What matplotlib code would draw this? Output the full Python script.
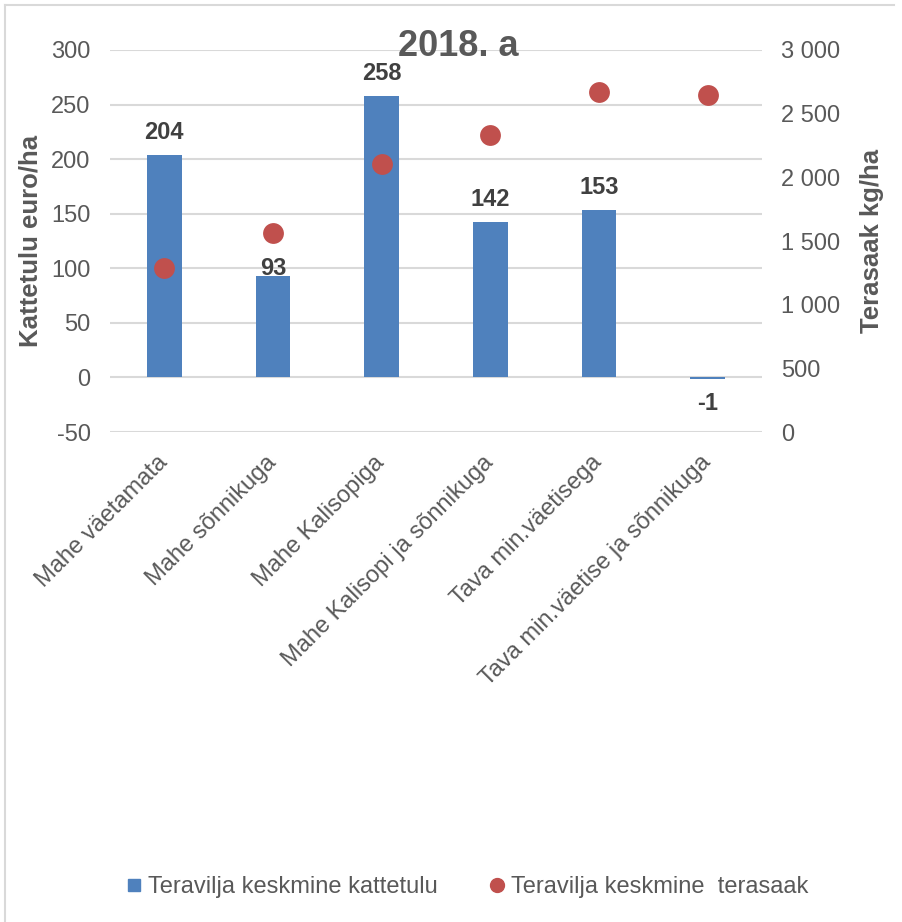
import matplotlib
matplotlib.use("Agg")
import matplotlib.pyplot as plt
import matplotlib.transforms as mtransforms
from matplotlib.lines import Line2D
import numpy as np

plt.rcParams['font.family'] = ['Liberation Sans', 'DejaVu Sans']
plt.rcParams['axes.unicode_minus'] = False

# andmed
kategooriad = ['Mahe väetamata', 'Mahe sõnnikuga', 'Mahe Kalisopiga',
               'Mahe Kalisopi ja sõnnikuga', 'Tava min.väetisega',
               'Tava min.väetise ja sõnnikuga']
kattetulu = [204, 93, 258, 142, 153, -1]          # euro/ha
terasaak = [1290, 1560, 2105, 2335, 2670, 2650]   # kg/ha

tekst = '#595959'
sinine = '#4F81BD'
punane = '#C0504D'
grid_c = '#D9D9D9'

fig = plt.figure(figsize=(9.02, 9.22), dpi=100)
ax = fig.add_axes([110 / 902, 1 - 432 / 922, (762 - 110) / 902, (432 - 50) / 922])
ax2 = ax.twinx()

x = np.arange(len(kategooriad))
ax.bar(x, kattetulu, width=0.32, color=sinine, zorder=2)
ax2.scatter(x, terasaak, s=225, color=punane, zorder=3, linewidths=0)

ax.set_xlim(-0.5, len(kategooriad) - 0.5)
ax.set_ylim(-50, 300)
ax.set_yticks(np.arange(-50, 301, 50))
ax2.set_ylim(0, 3000)
ax2.set_yticks(np.arange(0, 3001, 500))
ax2.set_yticklabels([f'{v:,}'.replace(',', ' ') for v in range(0, 3001, 500)])

ax.yaxis.grid(True, color=grid_c, linewidth=1.5, zorder=0)
ax.set_axisbelow(True)
for a in (ax, ax2):
    for s in a.spines.values():
        s.set_visible(False)
    a.tick_params(length=0, labelsize=17, labelcolor=tekst)
ax.tick_params(axis='y', pad=14)
ax2.tick_params(axis='y', pad=14)

ax.set_xticks(x)
ax.set_xticklabels(kategooriad, rotation=45, ha='right', va='top',
                   rotation_mode='anchor', fontsize=17, color=tekst)
ax.tick_params(axis='x', pad=14)
nihe = mtransforms.ScaledTranslation(-8 / 100, 0, fig.dpi_scale_trans)
for lbl in ax.get_xticklabels():
    lbl.set_transform(lbl.get_transform() + nihe)

# väärtused tulpade kohal/all
nihked = {93: -3}
for xi, v in zip(x, kattetulu):
    if v >= 0:
        ax.annotate(str(v), (xi, v), xytext=(0, nihked.get(v, 8)),
                    textcoords='offset points', ha='center', va='bottom',
                    fontsize=17, fontweight='bold', color='#404040')
    else:
        ax.annotate(str(v), (xi, v), xytext=(0, -10), textcoords='offset points',
                    ha='center', va='top', fontsize=17, fontweight='bold',
                    color='#404040')

ax.set_ylabel('Kattetulu euro/ha', fontsize=18.5, fontweight='bold', color=tekst,
              labelpad=6)
ax2.set_ylabel('Terasaak kg/ha', fontsize=18.5, fontweight='bold', color=tekst,
               labelpad=14)

fig.text(458 / 902, 1 - 47 / 922, '2018. a', ha='center', va='center',
         fontsize=26, fontweight='bold', color=tekst)

handles = [
    Line2D([], [], marker='s', linestyle='none', markersize=8,
           markerfacecolor=sinine, markeredgecolor=sinine),
    Line2D([], [], marker='o', linestyle='none', markersize=10,
           markerfacecolor=punane, markeredgecolor=punane),
]
fig.legend(handles, ['Teravilja keskmine kattetulu', 'Teravilja keskmine  terasaak'],
           loc='center', bbox_to_anchor=(465 / 902, 1 - 887 / 922), ncol=2,
           frameon=False, fontsize=17, labelcolor=tekst, handletextpad=0.1,
           columnspacing=2.0, handlelength=1)

# raam
fig.add_artist(Line2D([5 / 902, 894 / 902], [1 - 5 / 922, 1 - 5 / 922],
                      color='#D9D9D9', linewidth=1.5))
fig.add_artist(Line2D([5 / 902, 5 / 902], [1 - 5 / 922, 0],
                      color='#D9D9D9', linewidth=1.5))

fig.savefig('out.png', dpi=100, facecolor='white')
